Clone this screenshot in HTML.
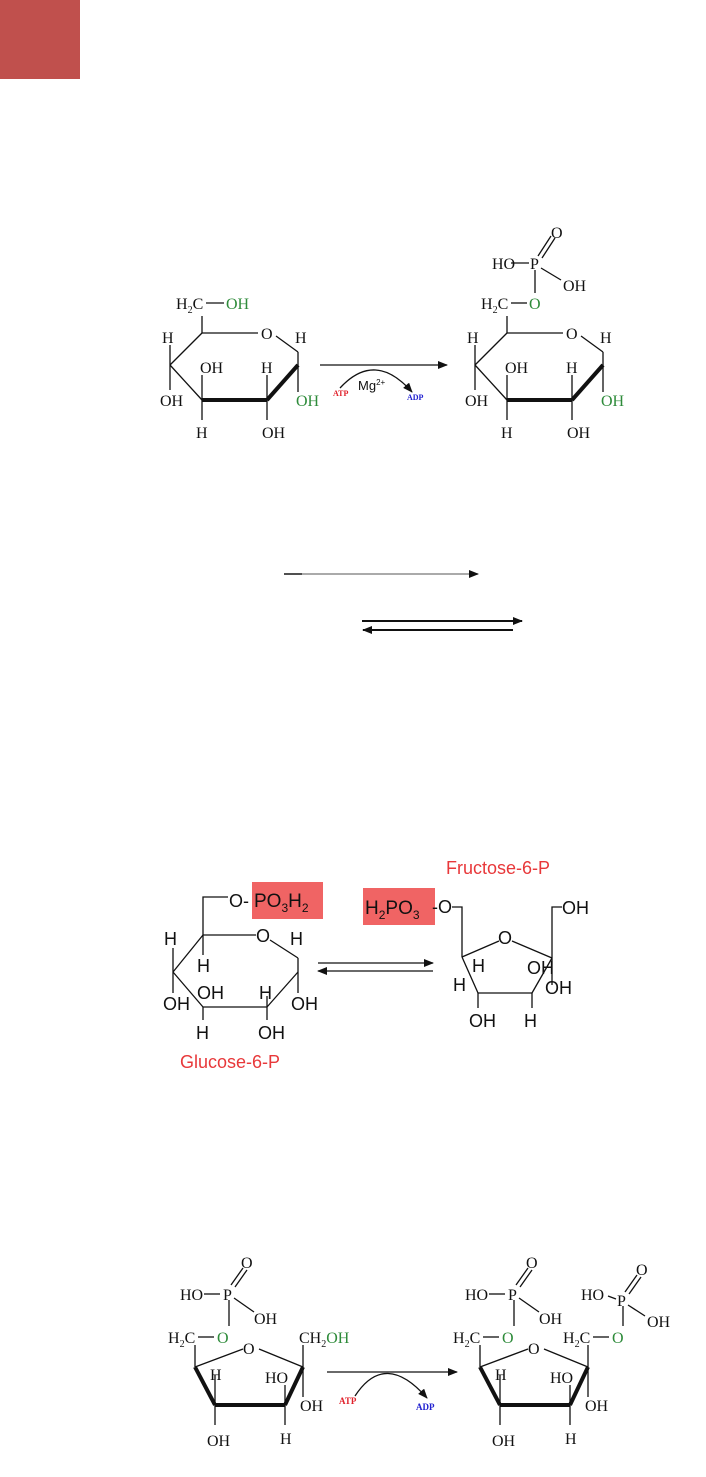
<!DOCTYPE html>
<html><head><meta charset="utf-8"><style>
html,body{margin:0;padding:0;background:#fff;}
svg{display:block;}
.s{font-family:"Liberation Serif",serif;font-size:16px;fill:#111;}
.g{fill:#2e8b3a;}
.a{font-family:"Liberation Sans",sans-serif;font-size:18px;fill:#111;}
.r{fill:#e8383a;}
line,polyline,path{stroke:#111;fill:none;stroke-width:1.3;}
.b{stroke-width:4;}
</style></head><body>
<svg width="706" height="1477" viewBox="0 0 706 1477" xmlns="http://www.w3.org/2000/svg">
<rect x="0" y="0" width="80" height="79" fill="#c0504d"/>
<defs>
<marker id="ah" markerWidth="10" markerHeight="8" refX="9" refY="4" orient="auto" markerUnits="userSpaceOnUse"><path d="M0,0 L10,4 L0,8 Z" style="fill:#111;stroke:none"/></marker>
</defs>

<!-- Section 1 left glucose -->
<g>
<polyline points="202,316 202,333 258,333"/>
<line x1="276" y1="336" x2="298" y2="352"/>
<line x1="298" y1="352" x2="298" y2="392"/>
<line x1="202" y1="333" x2="170" y2="365"/>
<line x1="170" y1="365" x2="202" y2="400"/>
<line x1="298" y1="365" x2="267" y2="400" class="b"/>
<line x1="202" y1="400" x2="267" y2="400" class="b"/>
<line x1="170" y1="345" x2="170" y2="390"/>
<line x1="202" y1="375" x2="202" y2="420"/>
<line x1="267" y1="375" x2="267" y2="420"/>
<line x1="206" y1="303" x2="224" y2="303"/>
<text class="s" x="176" y="309">H<tspan font-size="10" dy="4">2</tspan><tspan dy="-4">C</tspan></text>
<text class="s g" x="226" y="309">OH</text>
<text class="s" x="261" y="339">O</text>
<text class="s" x="162" y="343">H</text>
<text class="s" x="295" y="343">H</text>
<text class="s" x="200" y="373">OH</text>
<text class="s" x="261" y="373">H</text>
<text class="s" x="160" y="406">OH</text>
<text class="s g" x="296" y="406">OH</text>
<text class="s" x="196" y="438">H</text>
<text class="s" x="262" y="438">OH</text>
</g>
<line x1="320" y1="365" x2="447" y2="365" marker-end="url(#ah)"/>
<path d="M340,388 Q375,350 412,392" marker-end="url(#ah)"/>
<text x="333" y="396" style="font-family:'Liberation Serif',serif;font-size:8px;font-weight:bold;fill:#e0202a">ATP</text>
<text x="358" y="390" style="font-family:'Liberation Sans',sans-serif;font-size:13px;fill:#111">Mg<tspan font-size="8" dy="-5">2+</tspan></text>
<text x="407" y="400" style="font-family:'Liberation Serif',serif;font-size:8px;font-weight:bold;fill:#2020d0">ADP</text>

<!-- Section 1 right -->
<g transform="translate(305,0)">
<polyline points="202,316 202,333 258,333"/>
<line x1="276" y1="336" x2="298" y2="352"/>
<line x1="298" y1="352" x2="298" y2="392"/>
<line x1="202" y1="333" x2="170" y2="365"/>
<line x1="170" y1="365" x2="202" y2="400"/>
<line x1="298" y1="365" x2="267" y2="400" class="b"/>
<line x1="202" y1="400" x2="267" y2="400" class="b"/>
<line x1="170" y1="345" x2="170" y2="390"/>
<line x1="202" y1="375" x2="202" y2="420"/>
<line x1="267" y1="375" x2="267" y2="420"/>
<line x1="206" y1="303" x2="222" y2="303"/>
<text class="s" x="176" y="309">H<tspan font-size="10" dy="4">2</tspan><tspan dy="-4">C</tspan></text>
<text class="s g" x="224" y="309">O</text>
<line x1="230" y1="270" x2="230" y2="293"/>
<line x1="206" y1="263" x2="224" y2="263"/>
<line x1="236" y1="268" x2="256" y2="280"/>
<line x1="233" y1="256" x2="246" y2="236"/>
<line x1="237" y1="258" x2="250" y2="238"/>
<text class="s" x="187" y="269">HO</text>
<text class="s" x="225" y="269">P</text>
<text class="s" x="246" y="238">O</text>
<text class="s" x="258" y="291">OH</text>
<text class="s" x="261" y="339">O</text>
<text class="s" x="162" y="343">H</text>
<text class="s" x="295" y="343">H</text>
<text class="s" x="200" y="373">OH</text>
<text class="s" x="261" y="373">H</text>
<text class="s" x="160" y="406">OH</text>
<text class="s g" x="296" y="406">OH</text>
<text class="s" x="196" y="438">H</text>
<text class="s" x="262" y="438">OH</text>
</g>

<!-- middle arrows -->
<line x1="284" y1="574" x2="302" y2="574" style="stroke-width:2"/>
<line x1="284" y1="574" x2="478" y2="574" style="stroke:#777" marker-end="url(#ah)"/>
<line x1="362" y1="621" x2="522" y2="621" style="stroke-width:2" marker-end="url(#ah)"/>
<line x1="513" y1="630" x2="363" y2="630" style="stroke-width:2" marker-end="url(#ah)"/>

<!-- Section 2 -->
<rect x="252" y="882" width="71" height="37" fill="#f06464"/>
<rect x="363" y="888" width="72" height="37" fill="#f06464"/>
<polyline points="228,897 203,897 203,935 256,935"/>
<line x1="270" y1="940" x2="298" y2="958"/>
<line x1="298" y1="958" x2="298" y2="993"/>
<line x1="298" y1="972" x2="267" y2="1007"/>
<line x1="267" y1="1007" x2="203" y2="1007"/>
<line x1="203" y1="1007" x2="173" y2="972"/>
<line x1="173" y1="972" x2="203" y2="935"/>
<line x1="173" y1="948" x2="173" y2="993"/>
<line x1="203" y1="935" x2="203" y2="955"/>
<line x1="203" y1="1007" x2="203" y2="1020"/>
<line x1="267" y1="996" x2="267" y2="1020"/>
<text class="a" x="229" y="907">O-</text>
<text class="a" x="254" y="907" style="font-size:19px">PO<tspan font-size="12" dy="5">3</tspan><tspan dy="-5">H</tspan><tspan font-size="12" dy="5">2</tspan></text>
<text class="a" x="256" y="942">O</text>
<text class="a" x="164" y="945">H</text>
<text class="a" x="290" y="945">H</text>
<text class="a" x="197" y="972">H</text>
<text class="a" x="197" y="999">OH</text>
<text class="a" x="259" y="999">H</text>
<text class="a" x="163" y="1010">OH</text>
<text class="a" x="291" y="1010">OH</text>
<text class="a" x="196" y="1039">H</text>
<text class="a" x="258" y="1039">OH</text>
<text class="a r" x="180" y="1068" style="font-size:18px">Glucose-6-P</text>

<line x1="318" y1="963" x2="433" y2="963" marker-end="url(#ah)"/>
<line x1="433" y1="971" x2="318" y2="971" marker-end="url(#ah)"/>

<text class="a r" x="446" y="874" style="font-size:18px">Fructose-6-P</text>
<text class="a" x="365" y="914" style="font-size:19px">H<tspan font-size="12" dy="5">2</tspan><tspan dy="-5">PO</tspan><tspan font-size="12" dy="5">3</tspan></text>
<text class="a" x="432" y="913">-O</text>
<polyline points="452,907 462,907 462,957"/>
<line x1="462" y1="957" x2="499" y2="941"/>
<line x1="512" y1="941" x2="552" y2="958"/>
<line x1="552" y1="958" x2="532" y2="993"/>
<line x1="532" y1="993" x2="478" y2="993"/>
<line x1="478" y1="993" x2="462" y2="957"/>
<polyline points="562,907 552,907 552,985"/>
<line x1="478" y1="993" x2="478" y2="1008"/>
<line x1="532" y1="993" x2="532" y2="1008"/>
<text class="a" x="498" y="944">O</text>
<text class="a" x="562" y="914">OH</text>
<text class="a" x="472" y="972">H</text>
<text class="a" x="453" y="991">H</text>
<text class="a" x="527" y="974">OH</text>
<text class="a" x="545" y="994">OH</text>
<text class="a" x="469" y="1027">OH</text>
<text class="a" x="524" y="1027">H</text>

<!-- Section 3 left -->
<g>
<line x1="229" y1="1300" x2="229" y2="1326"/>
<line x1="204" y1="1294" x2="220" y2="1294"/>
<line x1="234" y1="1298" x2="254" y2="1312"/>
<line x1="231" y1="1285" x2="243" y2="1268"/>
<line x1="235" y1="1287" x2="247" y2="1270"/>
<text class="s" x="180" y="1300">HO</text>
<text class="s" x="223" y="1300">P</text>
<text class="s" x="241" y="1268">O</text>
<text class="s" x="254" y="1324">OH</text>
<text class="s" x="168" y="1343">H<tspan font-size="10" dy="4">2</tspan><tspan dy="-4">C</tspan></text>
<line x1="198" y1="1337" x2="214" y2="1337"/>
<text class="s g" x="217" y="1343">O</text>
<line x1="195" y1="1345" x2="195" y2="1367"/>
<line x1="195" y1="1367" x2="243" y2="1349"/>
<line x1="259" y1="1349" x2="303" y2="1367"/>
<line x1="303" y1="1367" x2="285" y2="1405" class="b"/>
<line x1="285" y1="1405" x2="215" y2="1405" class="b"/>
<line x1="215" y1="1405" x2="195" y2="1367" class="b"/>
<line x1="303" y1="1345" x2="303" y2="1397"/>
<line x1="215" y1="1375" x2="215" y2="1425"/>
<line x1="285" y1="1385" x2="285" y2="1425"/>
<text class="s" x="243" y="1354">O</text>
<text class="s" x="299" y="1343">CH<tspan font-size="10" dy="4">2</tspan><tspan dy="-4" class="g">OH</tspan></text>
<text class="s" x="210" y="1380">H</text>
<text class="s" x="265" y="1383">HO</text>
<text class="s" x="300" y="1411">OH</text>
<text class="s" x="207" y="1446">OH</text>
<text class="s" x="280" y="1444">H</text>
</g>
<line x1="327" y1="1372" x2="457" y2="1372" marker-end="url(#ah)"/>
<path d="M355,1396 Q385,1350 427,1398" marker-end="url(#ah)"/>
<text x="339" y="1404" style="font-family:'Liberation Serif',serif;font-size:9px;font-weight:bold;fill:#e0202a">ATP</text>
<text x="416" y="1410" style="font-family:'Liberation Serif',serif;font-size:9px;font-weight:bold;fill:#2020d0">ADP</text>

<!-- Section 3 right -->
<g transform="translate(285,0)">
<line x1="229" y1="1300" x2="229" y2="1326"/>
<line x1="204" y1="1294" x2="220" y2="1294"/>
<line x1="234" y1="1298" x2="254" y2="1312"/>
<line x1="231" y1="1285" x2="243" y2="1268"/>
<line x1="235" y1="1287" x2="247" y2="1270"/>
<text class="s" x="180" y="1300">HO</text>
<text class="s" x="223" y="1300">P</text>
<text class="s" x="241" y="1268">O</text>
<text class="s" x="254" y="1324">OH</text>
<text class="s" x="168" y="1343">H<tspan font-size="10" dy="4">2</tspan><tspan dy="-4">C</tspan></text>
<line x1="198" y1="1337" x2="214" y2="1337"/>
<text class="s g" x="217" y="1343">O</text>
<line x1="195" y1="1345" x2="195" y2="1367"/>
<line x1="195" y1="1367" x2="243" y2="1349"/>
<line x1="259" y1="1349" x2="303" y2="1367"/>
<line x1="303" y1="1367" x2="285" y2="1405" class="b"/>
<line x1="285" y1="1405" x2="215" y2="1405" class="b"/>
<line x1="215" y1="1405" x2="195" y2="1367" class="b"/>
<line x1="303" y1="1345" x2="303" y2="1397"/>
<line x1="215" y1="1375" x2="215" y2="1425"/>
<line x1="285" y1="1385" x2="285" y2="1425"/>
<text class="s" x="243" y="1354">O</text>
<text class="s" x="210" y="1380">H</text>
<text class="s" x="265" y="1383">HO</text>
<text class="s" x="300" y="1411">OH</text>
<text class="s" x="207" y="1446">OH</text>
<text class="s" x="280" y="1444">H</text>
<!-- second phosphate -->
<text class="s" x="278" y="1343">H<tspan font-size="10" dy="4">2</tspan><tspan dy="-4">C</tspan></text>
<line x1="308" y1="1337" x2="324" y2="1337"/>
<text class="s g" x="327" y="1343">O</text>
<line x1="338" y1="1306" x2="338" y2="1326"/>
<line x1="323" y1="1296" x2="331" y2="1299"/>
<line x1="343" y1="1305" x2="360" y2="1316"/>
<line x1="340" y1="1292" x2="352" y2="1275"/>
<line x1="344" y1="1294" x2="356" y2="1277"/>
<text class="s" x="296" y="1300">HO</text>
<text class="s" x="332" y="1306">P</text>
<text class="s" x="351" y="1275">O</text>
<text class="s" x="362" y="1327">OH</text>
</g>
</svg>
</body></html>
